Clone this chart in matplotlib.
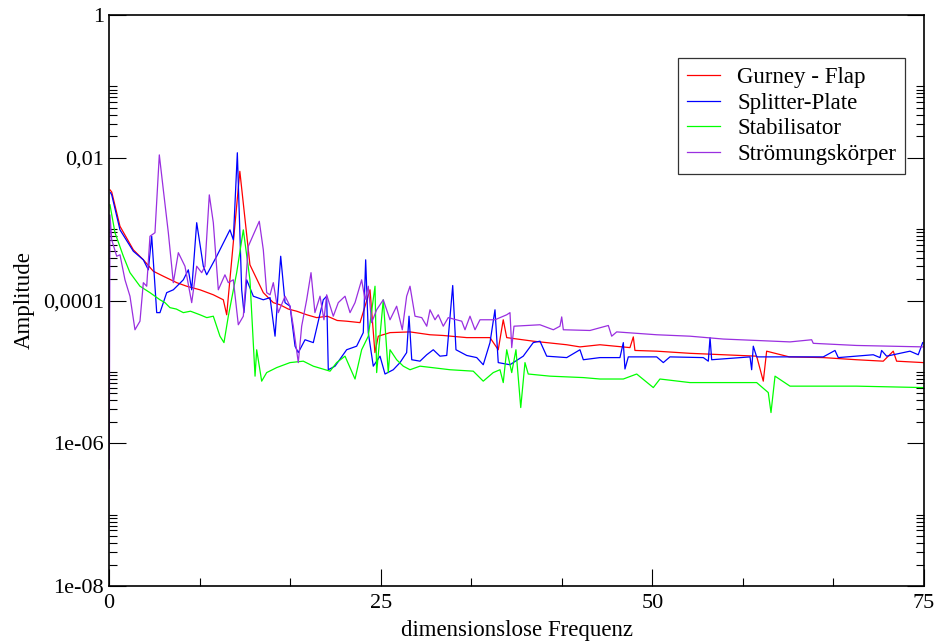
import numpy as np
import matplotlib
matplotlib.use("Agg")
import matplotlib.pyplot as plt
from matplotlib.ticker import FixedLocator, FixedFormatter, MultipleLocator

plt.rcParams['font.family'] = ['Liberation Serif', 'DejaVu Serif']

# spectra: frequency and log10(amplitude)
gurney_f = [0.09, 0.25, 1.01, 2.24, 3.16, 4.08, 5.00, 6.23, 7.15, 8.37, 9.60, 10.52, 10.83, 12.04, 12.97,
            14.20, 15.12, 15.74, 16.50, 17.27, 18.20, 19.11, 20.10, 21.00, 21.87, 23.10, 24.02, 24.47, 24.78,
            25.86, 27.70, 29.54, 30.74, 32.92, 35.06, 35.82, 36.28, 36.60, 39.04, 42.12, 43.34, 45.18, 47.94,
            48.25, 48.40, 50.40, 53.46, 56.53, 59.60, 60.21, 60.52, 62.60, 65.73, 68.80, 71.25, 72.17, 72.48,
            74.93]
gurney_lg = [-2.45, -2.48, -2.96, -3.29, -3.43, -3.59, -3.66, -3.75, -3.80, -3.85, -3.92, -3.99, -4.20, -2.19, -3.50,
             -3.89, -4.03, -4.06, -4.12, -4.15, -4.20, -4.24, -4.22, -4.28, -4.29, -4.31, -3.85, -4.73, -4.50,
             -4.45, -4.44, -4.48, -4.49, -4.52, -4.52, -4.69, -4.27, -4.52, -4.57, -4.62, -4.65, -4.62, -4.66,
             -4.51, -4.70, -4.71, -4.74, -4.76, -4.78, -5.13, -4.71, -4.79, -4.80, -4.83, -4.85, -4.71, -4.85,
             -4.87]

splitter_f = [0.14, 0.25, 1.01, 2.24, 3.16, 3.62, 3.93, 4.39, 4.69, 5.31, 5.92, 6.84, 7.30, 7.61, 8.07, 8.68,
              8.99, 9.91, 11.13, 11.44, 11.81, 12.21, 12.42, 12.67, 13.28, 14.20, 14.82, 15.28, 15.80, 16.20,
              16.66, 17.12, 17.42, 18.04, 18.80, 19.72, 20.03, 20.18, 20.80, 21.87, 22.79, 23.40, 23.62,
              23.86, 24.32, 24.94, 25.40, 26.16, 26.78, 27.39, 27.61, 27.86, 28.62, 29.24, 29.84, 30.46,
              31.08, 31.63, 31.93, 32.92, 33.84, 34.44, 35.06, 35.52, 35.82, 36.90, 38.12, 39.04, 39.66,
              40.28, 42.12, 43.34, 43.65, 45.18, 47.02, 47.33, 47.48, 47.79, 50.40, 51.01, 51.62, 54.69,
              55.15, 55.31, 55.46, 58.99, 59.14, 59.29, 59.60, 65.73, 66.81, 67.11, 70.33, 70.95, 71.10,
              71.56, 73.71, 74.47, 74.88]
splitter_lg = [-2.49, -2.52, -3.01, -3.31, -3.43, -3.57, -3.10, -4.17, -4.17, -3.89, -3.85, -3.71, -3.57, -3.85, -2.91, -3.52,
               -3.64, -3.38, -3.01, -3.15, -1.93, -3.85, -4.17, -3.71, -3.94, -3.99, -3.96, -4.50, -3.38, -4.03,
               -4.08, -4.64, -4.73, -4.55, -4.59, -3.99, -3.94, -4.97, -4.92, -4.69, -4.64, -4.45, -3.43,
               -4.45, -4.92, -4.78, -5.03, -4.97, -4.87, -4.73, -4.22, -4.83, -4.85, -4.76, -4.69, -4.78,
               -4.77, -3.79, -4.69, -4.77, -4.80, -4.90, -4.59, -4.13, -4.87, -4.90, -4.78, -4.59, -4.57,
               -4.78, -4.80, -4.69, -4.83, -4.80, -4.80, -4.59, -4.96, -4.79, -4.79, -4.87, -4.79, -4.80,
               -4.85, -4.52, -4.83, -4.79, -4.97, -4.64, -4.79, -4.79, -4.70, -4.80, -4.76, -4.80, -4.70,
               -4.78, -4.71, -4.76, -4.59]

stabil_f = [0.09, 0.55, 1.32, 1.93, 2.85, 3.77, 4.69, 5.15, 5.61, 6.20, 6.84, 7.50, 8.37, 9.00, 9.60, 10.21, 10.58,
            10.98, 11.75, 12.36, 12.97, 13.44, 13.59, 14.05, 14.51, 15.43, 16.66, 17.88, 18.80, 20.34, 20.95,
            21.72, 22.64, 23.25, 23.86, 24.48, 24.63, 25.24, 25.70, 25.86, 26.47, 27.08, 27.70, 28.62, 31.38,
            33.52, 34.44, 35.36, 35.98, 36.28, 36.60, 37.06, 37.45, 37.89, 38.28, 38.58, 40.58, 43.65, 45.18,
            47.33, 48.56, 50.09, 50.70, 53.46, 59.60, 60.67, 60.92, 61.29, 62.67, 68.80, 71.87, 74.93]
stabil_lg = [-2.66, -3.05, -3.38, -3.61, -3.80, -3.89, -3.99, -4.03, -4.10, -4.12, -4.17, -4.15, -4.20, -4.24, -4.22,
             -4.50, -4.59, -4.22, -3.61, -3.01, -3.71, -5.06, -4.69, -5.13, -5.01, -4.94, -4.87, -4.85, -4.92,
             -4.99, -4.87, -4.78, -5.10, -4.69, -4.50, -3.80, -5.01, -3.99, -5.01, -4.69, -4.83, -4.92, -4.97,
             -4.92, -4.97, -4.99, -5.13, -5.01, -4.97, -5.15, -4.69, -5.01, -4.69, -5.50, -4.87, -5.03, -5.06,
             -5.08, -5.10, -5.10, -5.03, -5.22, -5.10, -5.15, -5.15, -5.29, -5.57, -5.06, -5.20, -5.20, -5.21,
             -5.22]

koerper_f = [0.02, 0.09, 0.25, 0.71, 1.01, 1.47, 1.93, 2.39, 2.85, 3.16, 3.47, 3.77, 4.23, 4.63, 5.00, 5.46, 5.92,
             6.38, 6.99, 7.61, 8.07, 8.53, 8.83, 9.23, 9.60, 10.06, 10.67, 10.98, 11.44, 11.90, 12.36, 12.82,
             13.28, 13.83, 14.20, 14.51, 14.82, 15.12, 15.58, 16.20, 16.66, 16.96, 17.42, 17.73, 18.19, 18.59,
             18.95, 19.42, 19.78, 20.03, 20.64, 21.10, 21.72, 22.18, 22.64, 23.25, 23.56, 23.86, 24.17, 24.63,
             25.24, 25.86, 26.47, 26.99, 27.39, 27.70, 28.16, 28.78, 29.24, 29.54, 30.00, 30.30, 30.76, 31.22,
             32.46, 32.76, 33.22, 33.68, 34.14, 35.52, 36.60, 36.90, 37.06, 37.27, 39.66, 40.89, 41.50, 41.66,
             41.81, 44.26, 45.95, 46.26, 46.72, 50.40, 53.46, 56.53, 59.60, 62.67, 64.66, 64.81, 68.80, 71.87,
             74.93]
koerper_lg = [-6.36, -2.80, -3.15, -3.38, -3.36, -3.71, -3.94, -4.41, -4.29, -3.75, -3.80, -3.10, -3.05, -1.96, -2.45, -3.05, -3.75,
              -3.33, -3.52, -4.03, -3.52, -3.61, -3.52, -2.52, -2.91, -3.85, -3.64, -3.75, -3.71, -4.34, -4.22, -3.24,
              -3.08, -2.89, -3.29, -3.89, -3.92, -3.75, -4.17, -3.94, -4.08, -4.36, -4.87, -4.36, -3.99, -3.61,
              -4.17, -3.94, -4.27, -3.92, -4.22, -4.03, -3.94, -4.17, -4.03, -3.71, -3.99, -3.80, -4.31, -4.13,
              -3.99, -4.27, -4.08, -4.41, -3.94, -3.80, -4.22, -4.24, -4.36, -4.13, -4.27, -4.20, -4.36, -4.24,
              -4.29, -4.41, -4.22, -4.41, -4.27, -4.27, -4.20, -4.17, -4.66, -4.36, -4.34, -4.41, -4.36, -4.23,
              -4.41, -4.42, -4.35, -4.50, -4.44, -4.48, -4.50, -4.54, -4.56, -4.58, -4.55, -4.60, -4.63, -4.64,
              -4.65]

names = ['Gurney - Flap', 'Splitter-Plate', 'Stabilisator', 'Strömungskörper']
colors = ['#ff0000', '#0000ff', '#00ff00', '#9a2fe0']

y_major = [1e-8, 1e-6, 1e-4, 1e-2, 1]
y_labels = ['1e-08', '1e-06', '0,0001', '0,01', '1']

fig = plt.figure(figsize=(9.38, 6.43), dpi=100)
ax = fig.add_axes([109/938, 1-586/643, 815/938, 571/643])

series = [(gurney_f, gurney_lg), (splitter_f, splitter_lg), (stabil_f, stabil_lg), (koerper_f, koerper_lg)]
for (f, lg), name, c in zip(series, names, colors):
    ax.plot(f, 10.0 ** np.array(lg), color=c, lw=0.9, label=name)

ax.set_yscale('log')
ax.set_xlim(0, 75)
ax.set_ylim(1e-8, 1)

ax.yaxis.set_major_locator(FixedLocator(y_major))
ax.yaxis.set_major_formatter(FixedFormatter(y_labels))
# minor ticks only in the lower decade of each two-decade step
minors = []
for base in [1e-8, 1e-6, 1e-4, 1e-2]:
    minors += [base * k for k in range(2, 11)]
ax.yaxis.set_minor_locator(FixedLocator(minors))
ax.yaxis.set_minor_formatter(FixedFormatter([''] * len(minors)))
ax.xaxis.set_major_locator(MultipleLocator(25))
ax.xaxis.set_minor_locator(MultipleLocator(25 / 3))

ax.tick_params(axis='y', which='both', direction='in', left=True, right=True, labelsize=16, width=0.8)
ax.tick_params(axis='x', which='both', direction='in', bottom=True, top=False, labelsize=16, width=0.8)
ax.tick_params(which='major', length=12)
ax.tick_params(which='minor', length=6)
ax.tick_params(axis='x', pad=6)
for s in ax.spines.values():
    s.set_linewidth(1.2)

ax.set_xlabel('dimensionslose Frequenz', fontsize=16.5, labelpad=5)
ax.set_ylabel('Amplitude', fontsize=16.5, labelpad=6)

leg = ax.legend(loc='upper right', bbox_to_anchor=(0.977, 0.925), fontsize=16.5, frameon=True,
                fancybox=False, edgecolor='black', handlelength=1.45, handletextpad=0.75,
                labelspacing=0.2, borderpad=0.4, borderaxespad=0)
leg.get_frame().set_linewidth(0.9)

fig.savefig('out.png', dpi=100)
